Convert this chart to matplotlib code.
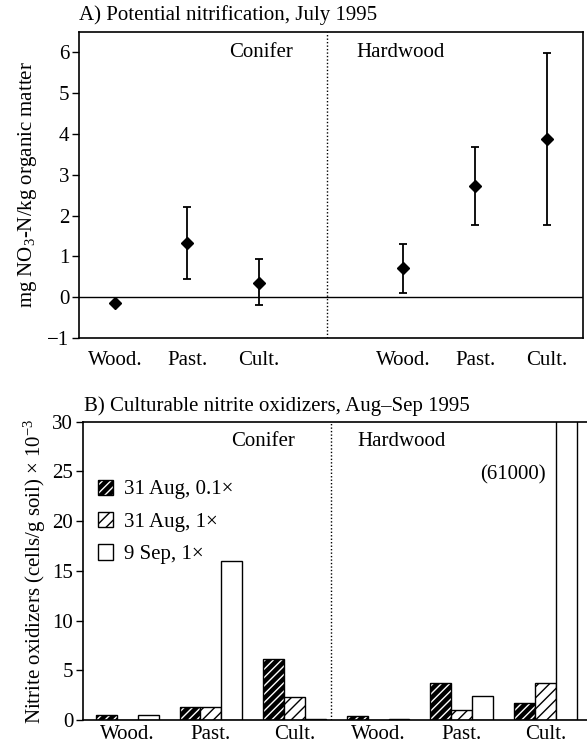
import matplotlib
matplotlib.use("Agg")
import matplotlib.pyplot as plt
from matplotlib.patches import Patch
from matplotlib.legend_handler import HandlerTuple
import numpy as np

plt.rcParams['font.family'] = ['Liberation Serif', 'DejaVu Serif']
plt.rcParams['mathtext.fontset'] = 'custom'
plt.rcParams['mathtext.rm'] = 'Liberation Serif'
plt.rcParams['mathtext.it'] = 'Liberation Serif:italic'
plt.rcParams['mathtext.bf'] = 'Liberation Serif:bold'
plt.rcParams['hatch.linewidth'] = 1.0

# ---- data ----
sites = ["Wood.", "Past.", "Cult."]
forests = ["Conifer", "Hardwood"]

# Panel A: potential nitrification (mean, upper, lower)
nit_conifer = [-0.15, 1.32, 0.35]
nit_conifer_hi = [-0.15, 2.22, 0.93]
nit_conifer_lo = [-0.15, 0.44, -0.20]
nit_hard = [0.72, 2.73, 3.87]
nit_hard_hi = [1.31, 3.68, 5.98]
nit_hard_lo = [0.10, 1.76, 1.76]

# Panel B: culturable nitrite oxidizers (x 10^-3)
series_labels = ["31 Aug, 0.1\u00d7", "31 Aug, 1\u00d7", "9 Sep, 1\u00d7"]
aug31_01 = [0.5, 1.3, 6.1, 0.4, 3.7, 1.7]
aug31_1 = [0.0, 1.3, 2.3, 0.0, 1.05, 3.7]
sep9_1 = [0.55, 16.0, 0.15, 0.15, 2.4, 61000]
big_label = "(61000)"

fig = plt.figure(figsize=(5.87, 7.46), dpi=100)
FS = 15

# ---------------- Panel A ----------------
axA = fig.add_axes([79/587, 1-338/746, 504/587, 306/746])
xa_con = np.array([0, 1, 2])
xa_hw = np.array([4, 5, 6])
for xs, m, hi, lo in [(xa_con, nit_conifer, nit_conifer_hi, nit_conifer_lo),
                      (xa_hw, nit_hard, nit_hard_hi, nit_hard_lo)]:
    m = np.array(m); hi = np.array(hi); lo = np.array(lo)
    axA.errorbar(xs, m, yerr=[m - lo, hi - m], fmt='D', color='black',
                 markersize=6.5, ecolor='black', elinewidth=1.3, capsize=3,
                 capthick=1.3, zorder=3)
axA.axhline(0, color='black', lw=1.0)
axA.axvline(2.94, color='black', lw=1.0, ls=(0, (1, 1.5)))
axA.set_xlim(-0.5, 6.5)
axA.set_ylim(-1, 6.5)
axA.set_yticks(range(-1, 7))
axA.set_yticklabels(["\u22121", "0", "1", "2", "3", "4", "5", "6"])
axA.set_xticks(list(xa_con) + list(xa_hw))
axA.set_xticklabels(sites + sites)
axA.tick_params(axis='x', length=0, pad=9, labelsize=FS)
axA.tick_params(axis='y', direction='out', length=5, width=1, labelsize=FS, pad=2)
for s in axA.spines.values():
    s.set_linewidth(1.2)
axA.text(2.47, 6.0, "Conifer", fontsize=FS, ha='right', va='center')
axA.text(3.35, 6.0, "Hardwood", fontsize=FS, ha='left', va='center')
axA.set_ylabel(r"mg NO$_3$-N/kg organic matter", fontsize=FS, labelpad=6)
fig.text(79/587, 1-15/746, "A) Potential nitrification, July 1995",
         fontsize=FS, ha='left', va='center')

# ---------------- Panel B ----------------
axB = fig.add_axes([83/587, 1-720/746, 525/587, 298.3/746])
xb = np.arange(6)
w = 0.25
# dark bars: black fill with white hatch, black outline on top
axB.bar(xb - w, aug31_01, w, facecolor='black', edgecolor='white',
        hatch='////', lw=0)
axB.bar(xb - w, aug31_01, w, fill=False, edgecolor='black', lw=1.0)
axB.bar(xb, aug31_1, w, facecolor='white', edgecolor='black',
        hatch='///', lw=1.0)
axB.bar(xb + w, sep9_1, w, facecolor='white', edgecolor='black', lw=1.0)
axB.axvline(2.44, color='black', lw=1.0, ls=(0, (1, 1.5)))
axB.set_xlim(-0.53, 5.75)
axB.set_ylim(0, 30)
axB.set_yticks(range(0, 31, 5))
axB.set_xticks(xb)
axB.set_xticklabels(sites + sites)
axB.tick_params(axis='x', length=0, pad=3.5, labelsize=FS)
axB.tick_params(axis='y', direction='out', length=5, width=1, labelsize=FS, pad=2)
for s in axB.spines.values():
    s.set_linewidth(1.2)
axB.text(2.0, 28.0, "Conifer", fontsize=FS, ha='right', va='center')
axB.text(2.75, 28.0, "Hardwood", fontsize=FS, ha='left', va='center')
axB.text(5.0, 24.7, big_label, fontsize=FS, ha='right', va='center')
axB.set_ylabel(r"Nitrite oxidizers (cells/g soil) $\times$ 10$^{-3}$",
               fontsize=FS, labelpad=3)

h1 = (Patch(facecolor='black', edgecolor='white', hatch='////', lw=0),
      Patch(fill=False, edgecolor='black', lw=1.0))
h2 = Patch(facecolor='white', edgecolor='black', hatch='///', lw=1.0)
h3 = Patch(facecolor='white', edgecolor='black', lw=1.0)
leg = axB.legend([h1, h2, h3], series_labels, loc='upper left',
                 bbox_to_anchor=(0.0, 0.855), frameon=False,
                 fontsize=FS, handlelength=0.75, handleheight=0.75,
                 handletextpad=0.5, labelspacing=0.6, borderaxespad=0.3,
                 handler_map={tuple: HandlerTuple(ndivide=1, pad=0)})
fig.text(84/587, 1-406/746, "B) Culturable nitrite oxidizers, Aug\u2013Sep 1995",
         fontsize=FS, ha='left', va='center')

fig.savefig("out.png", dpi=100)
